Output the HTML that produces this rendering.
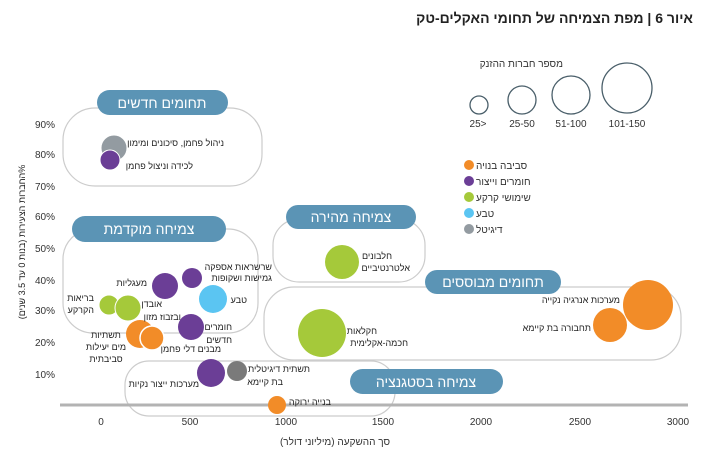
<!DOCTYPE html>
<html><head><meta charset="utf-8"><style>
html,body{margin:0;padding:0;background:#fff;}
svg{display:block;font-family:"Liberation Sans","DejaVu Sans",sans-serif;}
.l{font-size:10px;fill:#333;}
.t{font-size:9px;fill:#222;}
.p{font-size:14px;fill:#fff;}
</style></head><body>
<svg width="706" height="462" viewBox="0 0 706 462" xmlns="http://www.w3.org/2000/svg">
<text x="693" y="23" text-anchor="end" font-size="14" font-weight="bold" fill="#222">איור 6 | מפת הצמיחה של תחומי האקלים-טק</text>

<text x="563" y="67" text-anchor="end" class="l">מספר חברות ההזנק</text>
<g fill="none" stroke="#4a5f6a" stroke-width="1.3">
<circle cx="479" cy="105" r="9"/><circle cx="522" cy="100" r="14"/><circle cx="571" cy="95" r="19"/><circle cx="627" cy="88" r="25"/>
</g>
<g class="l" text-anchor="middle" fill="#555"><text x="478" y="127">25&gt;</text><text x="522" y="127">25-50</text><text x="571" y="127">51-100</text><text x="627" y="127">101-150</text></g>

<circle cx="469" cy="165" r="5" fill="#f28c28"/><circle cx="469" cy="181" r="5" fill="#6b3e96"/><circle cx="469" cy="197" r="5" fill="#a5c93a"/><circle cx="469" cy="213" r="5" fill="#5bc5f2"/><circle cx="469" cy="229" r="5" fill="#939ba1"/>
<g class="l"><text x="476" y="169">סביבה בנויה</text><text x="476" y="185">חומרים וייצור</text><text x="476" y="201">שימושי קרקע</text><text x="476" y="217">טבע</text><text x="476" y="233">דיגיטל</text></g>

<g fill="none" stroke="#ccc" stroke-width="1.2">
<rect x="63" y="108" width="199" height="78" rx="32"/>
<rect x="63" y="229" width="195" height="104" rx="30"/>
<rect x="273" y="219" width="152" height="63" rx="26"/>
<rect x="264" y="287" width="417" height="73" rx="30"/>
<rect x="125" y="361" width="270" height="55" rx="24"/>
</g>

<line x1="60" y1="405" x2="688" y2="405" stroke="#b3b3b3" stroke-width="3"/>
<g class="l" text-anchor="middle" fill="#333"><text x="101" y="425">0</text><text x="190" y="425">500</text><text x="286" y="425">1000</text><text x="383" y="425">1500</text><text x="481" y="425">2000</text><text x="580" y="425">2500</text><text x="678" y="425">3000</text></g>
<text x="335" y="445" text-anchor="middle" class="l">סך ההשקעה (מיליוני דולר)</text>
<g class="l" text-anchor="end"><text x="55" y="128">90%</text><text x="55" y="158">80%</text><text x="55" y="190">70%</text><text x="55" y="220">60%</text><text x="55" y="252">50%</text><text x="55" y="284">40%</text><text x="55" y="314">30%</text><text x="55" y="346">20%</text><text x="55" y="378">10%</text></g>
<text transform="translate(25,242) rotate(-90)" text-anchor="middle" direction="rtl" class="t">%החברות הצעירות (בנות 0 עד 3.5 שנים)</text>

<circle cx="114" cy="148" r="13" fill="#939ba1" stroke="#fff"/>
<circle cx="110" cy="160" r="10" fill="#6b3e96" stroke="#fff"/>
<circle cx="165" cy="286" r="13" fill="#6b3e96"/>
<circle cx="192" cy="278" r="10" fill="#6b3e96"/>
<circle cx="213" cy="299" r="14" fill="#5bc5f2"/>
<circle cx="109" cy="305" r="10" fill="#a5c93a" stroke="#fff"/>
<circle cx="128" cy="308" r="13" fill="#a5c93a" stroke="#fff"/>
<circle cx="191" cy="327" r="13" fill="#6b3e96"/>
<circle cx="140" cy="334" r="14" fill="#f28c28"/>
<circle cx="152" cy="338" r="12" fill="#f28c28" stroke="#fff" stroke-width="1.5"/>
<circle cx="211" cy="373" r="14" fill="#6b3e96"/>
<circle cx="237" cy="371" r="10" fill="#7a7a7a"/>
<circle cx="277" cy="405" r="9" fill="#f28c28"/>
<circle cx="342" cy="262" r="17" fill="#a5c93a"/>
<circle cx="322" cy="333" r="24" fill="#a5c93a"/>
<circle cx="648" cy="305" r="25" fill="#f28c28"/>
<circle cx="610" cy="325" r="17" fill="#f28c28"/>

<g fill="#5b94b5">
<rect x="97" y="90" width="131" height="25" rx="12.5"/>
<rect x="72" y="216" width="154" height="26" rx="13"/>
<rect x="286" y="205" width="130" height="24" rx="12"/>
<rect x="425" y="270" width="136" height="24" rx="12"/>
<rect x="350" y="369" width="153" height="25" rx="12.5"/>
</g>
<g class="p" text-anchor="middle">
<text x="162" y="108">תחומים חדשים</text>
<text x="149" y="234">צמיחה מוקדמת</text>
<text x="351" y="222">צמיחה מהירה</text>
<text x="493" y="287">תחומים מבוססים</text>
<text x="426" y="387">צמיחה בסטגנציה</text>
</g>

<g class="t">
<text x="224" y="146" text-anchor="end">ניהול פחמן, סיכונים ומימון</text>
<text x="193" y="169" text-anchor="end">לכידה וניצול פחמן</text>
<text x="272" y="270" text-anchor="end">שרשראות אספקה</text>
<text x="272" y="281" text-anchor="end">גמישות ושקופות</text>
<text x="147" y="286" text-anchor="end">מעגליות</text>
<text x="247" y="303" text-anchor="end">טבע</text>
<text x="94" y="301" text-anchor="end">בריאות</text>
<text x="94" y="313" text-anchor="end">הקרקע</text>
<text x="162" y="307" text-anchor="end">אובדן</text>
<text x="181" y="320" text-anchor="end">ובזבוז מזון</text>
<text x="232" y="330" text-anchor="end">חומרים</text>
<text x="232" y="343" text-anchor="end">חדשים</text>
<text x="106" y="338" text-anchor="middle">תשתיות</text>
<text x="106" y="350" text-anchor="middle">מים יעילות</text>
<text x="106" y="362" text-anchor="middle">סביבתית</text>
<text x="221" y="352" text-anchor="end">מבנים דלי פחמן</text>
<text x="199" y="387" text-anchor="end">מערכות ייצור נקיות</text>
<text x="310" y="372" text-anchor="end">תשתית דיגיטלית</text>
<text x="283" y="385" text-anchor="end">בת קיימא</text>
<text x="331" y="405" text-anchor="end">בנייה ירוקה</text>
<text x="392" y="259" text-anchor="end">חלבונים</text>
<text x="410" y="271" text-anchor="end">אלטרנטיביים</text>
<text x="377" y="334" text-anchor="end">חקלאות</text>
<text x="408" y="346" text-anchor="end">חכמה-אקלימית</text>
<text x="620" y="303" text-anchor="end">מערכות אנרגיה נקייה</text>
<text x="591" y="331" text-anchor="end">תחבורה בת קיימא</text>
</g>
</svg>
</body></html>
